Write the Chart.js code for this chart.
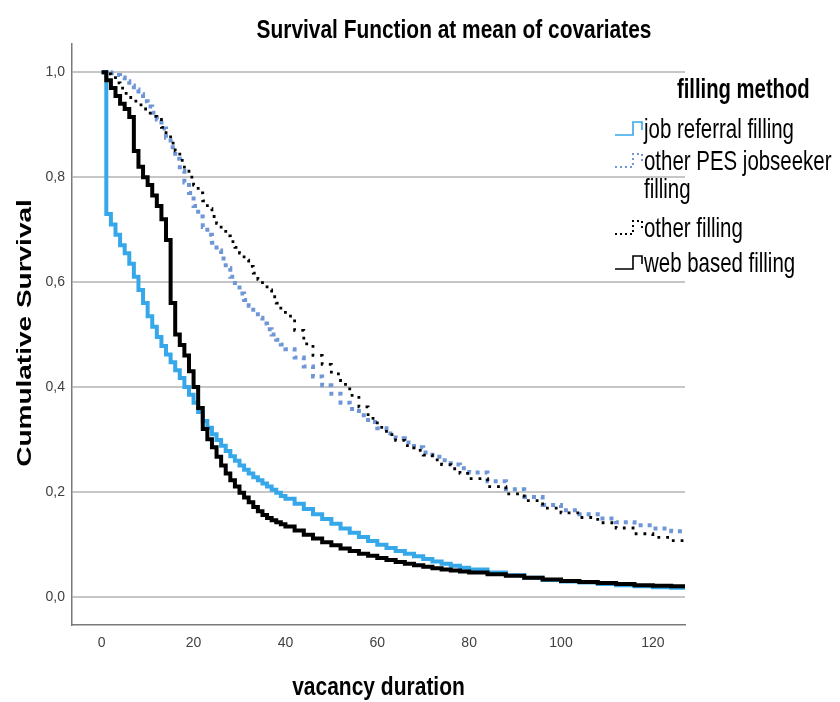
<!DOCTYPE html>
<html>
<head>
<meta charset="utf-8">
<script src="https://cdn.jsdelivr.net/npm/chart.js@4/dist/chart.umd.min.js"></script>
<style>
  html, body { margin: 0; padding: 0; background: #fff; }
</style>
</head>
<body>
<canvas id="chart" width="840" height="702"></canvas>
<script>
// vacancy duration (x) at which each survival value starts
const duration = [0, 1, 2, 3, 4, 5, 6, 7, 8, 9, 10, 11, 12, 13, 14, 15, 16, 17, 18, 19, 20,
  21, 22, 23, 24, 25, 26, 27, 28, 29, 30, 31, 32, 33, 34, 35, 36, 37, 38, 39, 40,
  42, 44, 46, 48, 50, 52, 54, 56, 58, 60, 62, 64, 66, 68, 70, 72, 74, 76, 78, 80,
  84, 88, 92, 96, 100, 104, 108, 112, 116, 120, 124, 127];

const jobReferral = [1.0, 0.73, 0.71, 0.69, 0.67, 0.655, 0.635, 0.61, 0.585, 0.56, 0.535, 0.515, 0.495, 0.478, 0.462, 0.447, 0.432, 0.417, 0.40, 0.385, 0.37,
  0.352, 0.335, 0.322, 0.31, 0.299, 0.288, 0.278, 0.268, 0.259, 0.25, 0.242, 0.235, 0.228, 0.222, 0.216, 0.21, 0.204, 0.198, 0.192, 0.187,
  0.177, 0.167, 0.157, 0.148, 0.139, 0.13, 0.122, 0.114, 0.106, 0.099, 0.093, 0.087, 0.082, 0.077, 0.072, 0.067, 0.063, 0.059, 0.055, 0.052,
  0.046, 0.041, 0.036, 0.032, 0.029, 0.027, 0.024, 0.022, 0.02, 0.018, 0.017, 0.016];

const otherPes = [1.0, 1.0, 0.998, 0.995, 0.99, 0.983, 0.975, 0.967, 0.958, 0.945, 0.935, 0.923, 0.91, 0.893, 0.875, 0.857, 0.835, 0.812, 0.79, 0.77, 0.745,
  0.725, 0.705, 0.69, 0.675, 0.66, 0.645, 0.627, 0.61, 0.594, 0.578, 0.566, 0.555, 0.543, 0.532, 0.521, 0.51, 0.50, 0.49, 0.481, 0.472,
  0.456, 0.439, 0.42, 0.403, 0.387, 0.37, 0.358, 0.346, 0.333, 0.321, 0.311, 0.302, 0.294, 0.285, 0.275, 0.267, 0.26, 0.252, 0.245, 0.237,
  0.22, 0.205, 0.19, 0.175, 0.165, 0.157, 0.149, 0.142, 0.136, 0.13, 0.125, 0.122];

const otherFilling = [1.0, 0.997, 0.99, 0.98, 0.97, 0.96, 0.952, 0.945, 0.938, 0.93, 0.922, 0.916, 0.91, 0.895, 0.88, 0.865, 0.85, 0.832, 0.815, 0.80, 0.785,
  0.77, 0.755, 0.74, 0.725, 0.712, 0.70, 0.688, 0.677, 0.666, 0.655, 0.642, 0.63, 0.617, 0.605, 0.595, 0.585, 0.572, 0.56, 0.547, 0.535,
  0.508, 0.482, 0.46, 0.443, 0.425, 0.405, 0.384, 0.362, 0.34, 0.323, 0.309, 0.298, 0.288, 0.279, 0.27, 0.261, 0.252, 0.244, 0.235, 0.225,
  0.21, 0.196, 0.183, 0.169, 0.16, 0.151, 0.141, 0.131, 0.12, 0.113, 0.107, 0.103];

const webBased = [1.0, 0.985, 0.97, 0.955, 0.94, 0.93, 0.915, 0.85, 0.82, 0.80, 0.785, 0.765, 0.745, 0.72, 0.68, 0.56, 0.50, 0.48, 0.46, 0.43, 0.40,
  0.36, 0.32, 0.30, 0.285, 0.267, 0.25, 0.235, 0.222, 0.21, 0.198, 0.189, 0.18, 0.171, 0.163, 0.156, 0.15, 0.146, 0.142, 0.138, 0.134,
  0.126, 0.118, 0.111, 0.104, 0.098, 0.092, 0.087, 0.082, 0.078, 0.074, 0.07, 0.066, 0.063, 0.06, 0.057, 0.054, 0.052, 0.05, 0.048, 0.046,
  0.043, 0.04, 0.036, 0.033, 0.03, 0.028, 0.026, 0.024, 0.022, 0.021, 0.02, 0.019];

const seriesNames = ['job referral filling', 'other PES jobseeker filling', 'other filling', 'web based filling'];
const xTicks = [0, 20, 40, 60, 80, 100, 120];
const yTicks = [0, 0.2, 0.4, 0.6, 0.8, 1.0];

const family = '"Liberation Sans", Arial, sans-serif';

const toPoints = (vals) => vals.map((v, i) => ({ x: duration[i], y: v }));

const styles = [
  { color: '#36a8ea', width: 4, dash: [], order: 1 },
  { color: '#6f96d6', width: 4, dash: [4, 5], order: 3 },
  { color: '#000000', width: 2.8, dash: [2.8, 6], order: 2 },
  { color: '#000000', width: 4, dash: [], order: 0 },
];

const datasets = [jobReferral, otherPes, otherFilling, webBased].map((vals, i) => ({
  label: seriesNames[i],
  data: toPoints(vals),
  stepped: 'before',
  borderColor: styles[i].color,
  borderWidth: styles[i].width,
  borderDash: styles[i].dash,
  order: styles[i].order,
  pointRadius: 0,
  fill: false,
}));

// the reference text is condensed, so squeeze it horizontally
function squeezed(ctx, text, x, y, font, sx, align) {
  ctx.save();
  ctx.translate(x, y);
  ctx.scale(sx, 1);
  ctx.font = font;
  ctx.textAlign = align;
  ctx.fillText(text, 0, 0);
  ctx.restore();
}

// titles and legend are drawn by hand
const extras = {
  id: 'extras',
  afterDraw(chart) {
    const ctx = chart.ctx;
    const area = chart.chartArea;
    ctx.save();
    ctx.fillStyle = '#000';
    ctx.textBaseline = 'alphabetic';

    squeezed(ctx, 'Survival Function at mean of covariates', 454, 38, `bold 25px ${family}`, 0.836, 'center');
    squeezed(ctx, 'vacancy duration', (area.left + area.right) / 2, 695, `bold 25px ${family}`, 0.84, 'center');

    ctx.save();
    ctx.translate(25, 333);
    ctx.rotate(-Math.PI / 2);
    ctx.scale(1, 0.75);
    ctx.font = `bold 28px ${family}`;
    ctx.textAlign = 'center';
    ctx.textBaseline = 'middle';
    ctx.fillText('Cumulative Survival', 0, 0);
    ctx.restore();

    // legend
    squeezed(ctx, 'filling method', 677, 98, `bold 27px ${family}`, 0.75, 'left');

    const legendLines = [['job referral filling'], ['other PES jobseeker', 'filling'], ['other filling'], ['web based filling']];
    const baselines = [138, 170, 237, 272];
    legendLines.forEach((lines, i) => {
      const st = styles[i];
      const b = baselines[i];
      ctx.save();
      ctx.strokeStyle = st.color;
      ctx.lineWidth = st.dash.length ? 2 : 1.6;
      ctx.setLineDash(st.dash.length ? [2, 3] : []);
      ctx.beginPath();
      ctx.moveTo(615, b - 3);
      ctx.lineTo(633, b - 3);
      ctx.lineTo(633, b - 16);
      ctx.lineTo(642, b - 16);
      ctx.lineTo(642, b - 8);
      ctx.stroke();
      ctx.restore();
      lines.forEach((t, j) => squeezed(ctx, t, 644, b + j * 28, `28px ${family}`, 0.73, 'left'));
    });
    ctx.restore();
  }
};

new Chart(document.getElementById('chart'), {
  type: 'line',
  data: { datasets },
  options: {
    responsive: false,
    animation: false,
    layout: { padding: { top: 44, right: 155, left: 0, bottom: 0 } },
    plugins: {
      legend: { display: false },
      title: { display: false },
      tooltip: { enabled: false },
    },
    scales: {
      x: {
        type: 'linear',
        min: -6.47,
        max: 127,
        afterBuildTicks: (s) => { s.ticks = xTicks.map((v) => ({ value: v })); },
        afterFit: (s) => { s.height = 77; },
        grid: { display: false, drawTicks: false },
        border: { color: '#7a7a7a', width: 1.5 },
        ticks: { padding: 10, color: '#404040', font: { family, size: 14 } },
      },
      y: {
        type: 'linear',
        min: -0.054,
        max: 1.054,
        afterBuildTicks: (s) => { s.ticks = yTicks.map((v) => ({ value: v })); },
        afterFit: (s) => { s.width = 72; },
        grid: { color: '#c6c6c6', lineWidth: 2, drawTicks: false },
        border: { color: '#7a7a7a', width: 1.5 },
        ticks: {
          padding: 7,
          color: '#404040',
          font: { family, size: 14 },
          callback: (v) => v.toFixed(1).replace('.', ','),
        },
      },
    },
  },
  plugins: [extras],
});
</script>
</body>
</html>
